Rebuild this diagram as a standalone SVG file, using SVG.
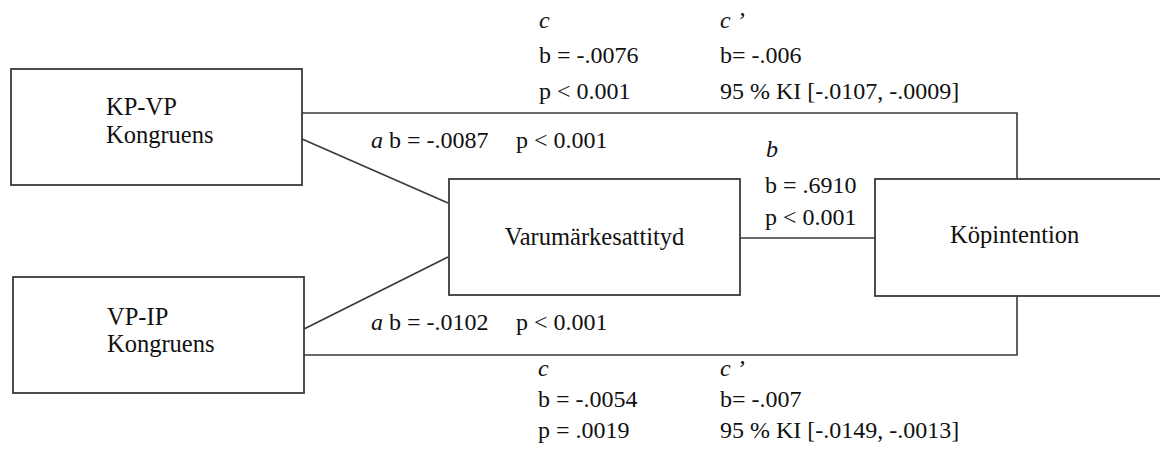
<svg xmlns="http://www.w3.org/2000/svg" width="1160" height="452" viewBox="0 0 1160 452">
  <style>
    .box { fill: #ffffff; stroke: #3a3a3a; stroke-width: 1.8; }
    .link { fill: none; stroke: #3a3a3a; stroke-width: 1.6; }
    .node { font-family: 'Liberation Serif', 'DejaVu Serif', 'Times New Roman', serif; font-size: 24.5px; fill: #111111; }
    .lbl { font-family: 'Liberation Serif', 'DejaVu Serif', 'Times New Roman', serif; font-size: 24px; fill: #111111; }
    .it { font-style: italic; }
  </style>
  <rect width="1160" height="452" fill="#ffffff"/>

  <g id="connectors">
    <!-- direct paths c' to purchase intention -->
    <polyline class="link" points="302,113 1017,113 1017,179"/>
    <polyline class="link" points="304,355 1017,355 1017,296"/>
    <!-- a paths into brand attitude -->
    <line class="link" x1="302" y1="139" x2="448" y2="203"/>
    <line class="link" x1="304" y1="329" x2="448" y2="257"/>
    <!-- b path -->
    <line class="link" x1="740" y1="238" x2="875" y2="238"/>
  </g>

  <g id="node-kpvp">
    <rect class="box" x="11" y="69" width="291" height="116"/>
    <text class="node" x="106" y="115">KP-VP</text>
    <text class="node" x="106" y="143">Kongruens</text>
  </g>

  <g id="node-vpip">
    <rect class="box" x="13" y="277" width="291" height="116"/>
    <text class="node" x="107" y="325">VP-IP</text>
    <text class="node" x="107" y="352">Kongruens</text>
  </g>

  <g id="node-attityd">
    <rect class="box" x="449" y="179" width="291" height="116"/>
    <text class="node" x="594.5" y="245" text-anchor="middle">Varumärkesattityd</text>
  </g>

  <g id="node-kopintention">
    <rect class="box" x="875" y="179" width="300" height="117"/>
    <text class="node" x="950" y="243">Köpintention</text>
  </g>

  <g id="labels">
    <!-- upper total / direct effect -->
    <text class="lbl it" x="539" y="28">c</text>
    <text class="lbl" x="539" y="63">b = -.0076</text>
    <text class="lbl" x="539" y="99">p &lt; 0.001</text>
    <text class="lbl it" x="720" y="28">c ’</text>
    <text class="lbl" x="720" y="63">b= -.006</text>
    <text class="lbl" x="720" y="99">95 % KI [-.0107, -.0009]</text>

    <!-- indirect effects -->
    <text class="lbl" x="371" y="148"><tspan class="it">a</tspan> b = -.0087</text>
    <text class="lbl" x="516" y="148">p &lt; 0.001</text>
    <text class="lbl" x="371" y="330"><tspan class="it">a</tspan> b = -.0102</text>
    <text class="lbl" x="516" y="330">p &lt; 0.001</text>

    <!-- b path -->
    <text class="lbl it" x="766" y="157">b</text>
    <text class="lbl" x="765" y="193">b = .6910</text>
    <text class="lbl" x="765" y="225">p &lt; 0.001</text>

    <!-- lower total / direct effect -->
    <text class="lbl it" x="538" y="376">c</text>
    <text class="lbl" x="538" y="407">b = -.0054</text>
    <text class="lbl" x="538" y="438">p = .0019</text>
    <text class="lbl it" x="720" y="376">c ’</text>
    <text class="lbl" x="720" y="407">b= -.007</text>
    <text class="lbl" x="720" y="438">95 % KI [-.0149, -.0013]</text>
  </g>
</svg>
